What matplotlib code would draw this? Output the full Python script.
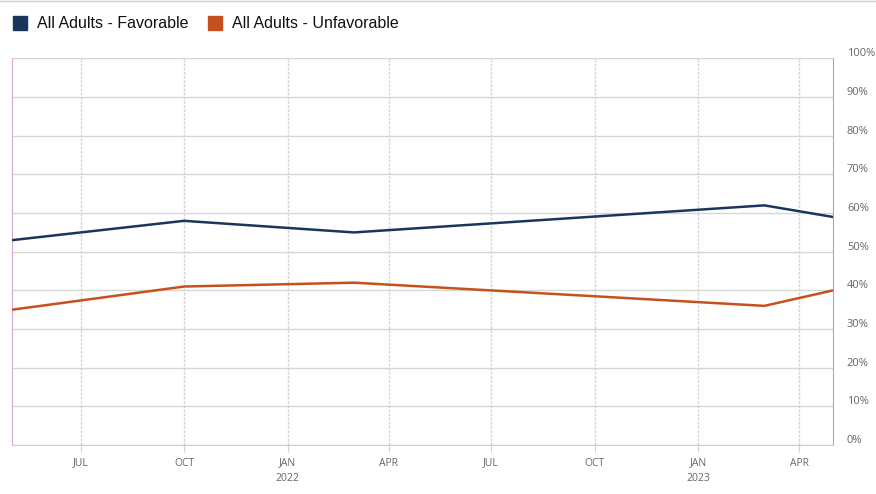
import numpy as np
import pandas as pd
import matplotlib
matplotlib.use("Agg")
import matplotlib.pyplot as plt
import matplotlib.transforms as mtransforms
from matplotlib.patches import Rectangle

# survey dates and values (percent)
dates = pd.to_datetime(["2021-05-01", "2021-10-01", "2022-03-01", "2023-03-01", "2023-05-01"])
favorable = [53, 58, 55, 62, 59]
unfavorable = [35, 41, 42, 36, 40]
series_names = ["All Adults - Favorable", "All Adults - Unfavorable"]
colors = ["#1b365d", "#c4511e"]

fig = plt.figure(figsize=(8.76, 4.94), dpi=100)
ax = fig.add_axes([12 / 876, 49 / 494, 821 / 876, 386.5 / 494])

ax.plot(dates, favorable, color=colors[0], lw=1.8, solid_joinstyle="miter", zorder=3)
ax.plot(dates, unfavorable, color=colors[1], lw=1.8, solid_joinstyle="miter", zorder=3)

ax.set_xlim(pd.Timestamp("2021-05-01"), pd.Timestamp("2023-05-01"))
ax.set_ylim(0, 100)

# y axis on the right, labels sit slightly above their gridline
ax.yaxis.tick_right()
ax.set_yticks(np.arange(0, 101, 10))
ax.set_yticklabels([f"{v}%" for v in range(0, 101, 10)])
ax.tick_params(axis="y", length=0, pad=10, labelsize=8, labelcolor="#666666")
shift = mtransforms.ScaledTranslation(0, 6 / 100, fig.dpi_scale_trans)
for lbl in ax.get_yticklabels():
    lbl.set_fontfamily("Open Sans")
    lbl.set_transform(lbl.get_transform() + shift)
ax.grid(axis="y", color="#d2d9d2", lw=1.0, zorder=0)

# x axis: quarter ticks
qticks = pd.to_datetime(["2021-07-01", "2021-10-01", "2022-01-01", "2022-04-01",
                         "2022-07-01", "2022-10-01", "2023-01-01", "2023-04-01"])
qlabels = ["JUL", "OCT", "JAN\n2022", "APR", "JUL", "OCT", "JAN\n2023", "APR"]
ax.set_xticks(qticks)
ax.set_xticklabels(qlabels, fontfamily="Open Sans", fontsize=7.5, color="#666666",
                   linespacing=1.5, va="top")
ax.tick_params(axis="x", length=5, color="#c8d0dc", pad=4)
ax.grid(axis="x", color="#d4d4d4", lw=1.0, ls=(0, (2, 1)), zorder=0)

ax.spines["top"].set_visible(False)
ax.spines["bottom"].set_color("#c8d0d0")
ax.spines["left"].set_color("#d9a8d9")
ax.spines["left"].set_linestyle((0, (3, 1)))
ax.spines["right"].set_color("#aaaaaa")
ax.spines["right"].set_linestyle((0, (1, 1)))

# legend drawn as figure patches and text
fig.add_artist(Rectangle((13 / 876, 1 - 30 / 494), 14 / 876, 14 / 494,
                         transform=fig.transFigure, color=colors[0]))
fig.text(37 / 876, 1 - 23 / 494, series_names[0], fontsize=11.5, va="center",
         fontfamily="Liberation Sans", color="#111111")
fig.add_artist(Rectangle((208 / 876, 1 - 30 / 494), 14 / 876, 14 / 494,
                         transform=fig.transFigure, color=colors[1]))
fig.text(232 / 876, 1 - 23 / 494, series_names[1], fontsize=11.5, va="center",
         fontfamily="Liberation Sans", color="#111111")

# thin separator line at top
fig.add_artist(plt.Line2D([0, 1], [1 - 1.5 / 494, 1 - 1.5 / 494], transform=fig.transFigure,
                          color="#d0d0d0", lw=1))

fig.savefig("out.png", dpi=100)
